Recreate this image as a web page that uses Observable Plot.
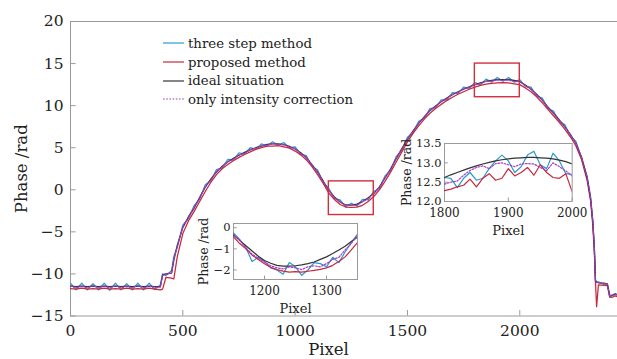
<!DOCTYPE html>
<html>
<head>
<meta charset="utf-8">
<script src="https://cdn.jsdelivr.net/npm/d3@7"></script>
<script src="https://cdn.jsdelivr.net/npm/@observablehq/plot@0.6"></script>
<style>
  body { margin: 0; background: #fff; }
  #chart { position: relative; width: 617px; height: 359px; overflow: hidden; font-family: "DejaVu Serif", serif; background: #fff; }
  #chart svg { position: absolute; max-width: none; }
  .legend { position: absolute; left: 163px; top: 34px; font-size: 13.3px; color: #222; }
  .legend .row { display: flex; align-items: center; height: 18.7px; white-space: nowrap; }
  .legend svg { position: static !important; margin-right: 3px; }
</style>
</head>
<body>
<div id="chart"></div>
<script>
// Unwrapped phase along the detector row (pixel index -> phase in rad)
const seriesNames = ["three step method", "proposed method", "ideal situation", "only intensity correction"];
const seriesColors = ["#2b9ad0", "#c8283a", "#333333", "#a83cc4"];
const seriesDash = [null, null, null, "1.6,1.6"];

const pixels = [
  0, 25, 50, 75, 100, 125, 150, 175, 200, 225, 250, 275, 300, 325, 350, 375,
  400, 410, 425, 450, 460, 475,
  500, 525, 550, 575, 600, 625, 650, 675, 700, 725, 750, 775, 800, 825, 850, 875, 900, 925, 950, 975,
  1000, 1025, 1050, 1075, 1100, 1125, 1150, 1175, 1200, 1225, 1250, 1275, 1300, 1325, 1350, 1375, 1400, 1425, 1450, 1475,
  1500, 1525, 1550, 1575, 1600, 1625, 1650, 1675, 1700, 1725, 1750, 1775, 1800, 1825, 1850, 1875, 1900, 1925, 1950, 1975,
  2000, 2025, 2050, 2075, 2100, 2125, 2150, 2175, 2200, 2225, 2250, 2275, 2300,
  2315, 2325, 2332, 2337, 2342, 2350, 2375, 2390, 2400, 2410, 2425, 2435
];

const threeStep = [
  -11.1, -11.9, -11.1, -11.9, -11.15, -11.9, -11.1, -11.95, -11.1, -11.9, -11.15, -11.9, -11.1, -11.9, -11.1, -11.85,
  -11.3, -10.0, -10.2, -9.6, -7.9, -6.9,
  -4.2, -3.4, -1.9, -1.1, 0.6, 1.1, 2.4, 2.6, 3.6, 3.55, 4.4, 4.25, 5.0, 4.8, 5.45, 5.2, 5.7, 5.3, 5.6, 5.0,
  5.1, 4.2, 4.05, 2.8, 2.35, 0.85, 0.15, -1.05, -1.2, -2.05, -1.6, -1.95, -1.15, -1.2, -0.2, 0.15, 1.65, 2.3, 3.95, 4.7,
  6.25, 6.8, 8.15, 8.5, 9.65, 9.75, 10.7, 10.7, 11.55, 11.45, 12.2, 12.05, 12.75, 12.5, 13.15, 12.8, 13.35, 12.9, 13.35, 12.8,
  13.1, 12.25, 12.2, 11.15, 10.9, 9.65, 9.35, 8.15, 7.75, 6.4, 5.75, 3.7, 1.6,
  -0.8, -3.6, -6.8, -10.7, -10.9, -10.95, -11.25, -11.15, -12.8, -12.5, -12.35, -12.45
];

const proposed = [
  -11.75, -11.8, -11.7, -11.8, -11.75, -11.8, -11.7, -11.8, -11.75, -11.8, -11.7, -11.8, -11.75, -11.8, -11.7, -11.8,
  -11.9, -11.8, -10.4, -10.5, -10.6, -8.0,
  -5.2, -3.7, -2.6, -1.4, -0.2, 0.9, 1.8, 2.5, 3.0, 3.45, 3.85, 4.2, 4.5, 4.8, 5.0, 5.2, 5.2, 5.25, 5.1, 4.95,
  4.6, 4.15, 3.55, 2.75, 1.8, 0.75, -0.4, -1.15, -1.75, -2.05, -2.1, -2.05, -1.85, -1.4, -0.8, 0.0, 1.0, 2.1, 3.3, 4.5,
  5.7, 6.7, 7.6, 8.4, 9.1, 9.65, 10.15, 10.6, 11.0, 11.35, 11.65, 11.95, 12.2, 12.4, 12.55, 12.65, 12.7, 12.75, 12.7, 12.6,
  12.5, 12.1, 11.65, 11.05, 10.35, 9.55, 8.8, 8.05, 7.2, 6.3, 5.2, 3.6, 1.1,
  -1.3, -4.2, -7.5, -11.0, -13.9, -11.3, -11.35, -11.4, -12.7, -12.8, -12.6, -12.7
];

const ideal = [
  -11.45, -11.5, -11.45, -11.5, -11.45, -11.5, -11.45, -11.5, -11.45, -11.5, -11.45, -11.5, -11.45, -11.5, -11.45, -11.5,
  -11.5, -10.1, -10.0, -9.9, -8.4, -6.6,
  -4.5, -3.2, -2.2, -0.9, 0.3, 1.3, 2.1, 2.8, 3.3, 3.75, 4.1, 4.45, 4.75, 5.0, 5.2, 5.4, 5.45, 5.45, 5.35, 5.15,
  4.85, 4.4, 3.8, 3.0, 2.1, 1.05, -0.1, -0.85, -1.45, -1.8, -1.82, -1.7, -1.4, -0.95, -0.45, 0.35, 1.4, 2.5, 3.7, 4.9,
  6.0, 7.0, 7.9, 8.7, 9.4, 9.95, 10.45, 10.9, 11.3, 11.65, 11.95, 12.25, 12.5, 12.7, 12.9, 13.0, 13.1, 13.1, 13.1, 13.0,
  12.85, 12.45, 11.95, 11.35, 10.65, 9.85, 9.1, 8.35, 7.5, 6.6, 5.5, 3.9, 1.4,
  -1.0, -3.8, -7.0, -10.9, -11.0, -11.05, -11.1, -11.2, -12.5, -12.6, -12.4, -12.5
];

const intensityOnly = [
  -11.4, -11.65, -11.45, -11.65, -11.4, -11.65, -11.45, -11.65, -11.4, -11.65, -11.45, -11.65, -11.4, -11.65, -11.45, -11.6,
  -11.55, -10.2, -10.05, -9.85, -8.2, -6.8,
  -4.4, -3.35, -2.15, -1.0, 0.35, 1.15, 2.2, 2.7, 3.35, 3.6, 4.15, 4.3, 4.8, 4.9, 5.25, 5.3, 5.5, 5.35, 5.4, 5.05,
  4.9, 4.3, 3.85, 2.9, 2.15, 0.95, -0.05, -0.95, -1.4, -1.9, -1.8, -1.85, -1.4, -1.05, -0.4, 0.25, 1.45, 2.4, 3.75, 4.8,
  6.05, 6.9, 7.95, 8.6, 9.45, 9.85, 10.5, 10.8, 11.35, 11.55, 12.0, 12.15, 12.5, 12.6, 12.9, 12.9, 13.05, 13.0, 13.05, 12.85,
  12.9, 12.35, 12.0, 11.25, 10.7, 9.75, 9.15, 8.25, 7.55, 6.5, 5.55, 3.8, 1.45,
  -0.95, -3.7, -6.9, -10.8, -11.0, -11.0, -11.15, -11.2, -12.6, -12.55, -12.45, -12.5
];

// Close-up around the valley
const lowPixels = [1150, 1160, 1170, 1180, 1190, 1200, 1210, 1220, 1230, 1240, 1250, 1260, 1270, 1280, 1290, 1300, 1310, 1320, 1330, 1340, 1350];
const lowThreeStep = [-0.25, -0.55, -0.95, -1.6, -1.4, -1.6, -1.9, -2.0, -2.2, -1.65, -1.85, -2.25, -2.0, -1.65, -1.7, -1.85, -1.4, -1.65, -1.15, -0.7, -0.3];
const lowProposed = [-0.43, -0.75, -1.0, -1.3, -1.5, -1.7, -1.87, -1.98, -2.05, -2.1, -2.08, -2.1, -2.06, -2.02, -1.97, -1.9, -1.78, -1.6, -1.38, -1.05, -0.7];
const lowIdeal = [-0.35, -0.6, -0.85, -1.1, -1.35, -1.55, -1.68, -1.78, -1.82, -1.82, -1.8, -1.76, -1.7, -1.62, -1.5, -1.38, -1.22, -1.05, -0.88, -0.65, -0.45];
const lowIntensityOnly = [-0.3, -0.6, -0.95, -1.25, -1.45, -1.62, -1.8, -1.9, -1.95, -1.85, -1.9, -1.98, -1.85, -1.8, -1.85, -1.7, -1.5, -1.4, -1.05, -0.75, -0.35];

// Close-up around the crest
const highPixels = [1800, 1810, 1820, 1830, 1840, 1850, 1860, 1870, 1880, 1890, 1900, 1910, 1920, 1930, 1940, 1950, 1960, 1970, 1980, 1990, 2000];
const highThreeStep = [12.62, 12.6, 12.36, 12.6, 12.75, 12.55, 12.6, 12.85, 13.05, 13.2, 13.05, 12.75, 12.9, 13.2, 13.3, 12.95, 12.85, 13.25, 13.05, 12.72, 12.7];
const highProposed = [12.28, 12.32, 12.38, 12.42, 12.58, 12.38, 12.6, 12.72, 12.55, 12.6, 12.85, 12.66, 12.75, 12.88, 12.68, 12.95, 12.75, 12.62, 12.6, 12.72, 12.25];
const highIdeal = [12.62, 12.69, 12.75, 12.81, 12.87, 12.92, 12.97, 13.01, 13.05, 13.08, 13.1, 13.12, 13.13, 13.14, 13.14, 13.13, 13.12, 13.1, 13.07, 13.03, 12.97];
const highIntensityOnly = [12.45, 12.5, 12.53, 12.68, 12.8, 12.88, 12.92, 12.85, 12.98, 13.0, 12.95, 12.9, 12.97, 12.98, 12.97, 12.88, 12.8, 13.0, 12.9, 12.79, 12.66];

// Regions marked on the full curve
const zoomBoxes = [
  {x1: 1150, x2: 1350, y1: -3, y2: 1},
  {x1: 1800, x2: 2000, y1: 11, y2: 15}
];

const mainXTicks = [0, 500, 1000, 1500, 2000];
const mainYTicks = [-15, -10, -5, 0, 5, 10, 15, 20];

const axisGray = "#9a9a9a";
const textColor = "#222";

function seriesLines(xs, arrays, width, clip) {
  return arrays.map((vals, i) => {
    const rows = vals.map((v, j) => ({pixel: xs[j], phase: v}));
    return Plot.line(rows, {
      x: "pixel", y: "phase",
      stroke: seriesColors[i], strokeWidth: width,
      strokeDasharray: seriesDash[i] ?? undefined,
      clip
    });
  });
}

const chart = document.getElementById("chart");

// Full curve
const main = Plot.plot({
  width: 617, height: 359,
  marginLeft: 70, marginRight: 0, marginTop: 21, marginBottom: 43.5,
  style: {fontFamily: "DejaVu Serif", background: "transparent", color: textColor, overflow: "visible"},
  x: {domain: [0, 2435]},
  y: {domain: [-15, 20]},
  marks: [
    Plot.frame({stroke: axisGray}),
    Plot.ruleY(mainYTicks, {x1: 0, x2: 25, stroke: axisGray}),
    Plot.ruleX(mainXTicks, {y1: -15, y2: -14.35, stroke: axisGray}),
    Plot.axisY({ticks: mainYTicks, tickSize: 0, tickPadding: 7, fontSize: 15.5, label: null, tickFormat: d3.format("d")}),
    Plot.axisX({ticks: mainXTicks, tickSize: 0, tickPadding: 9, fontSize: 15.5, label: null, tickFormat: d3.format("d")}),
    ...seriesLines(pixels, [threeStep, proposed, ideal, intensityOnly], 1.25, false),
    Plot.rect(zoomBoxes, {x1: "x1", x2: "x2", y1: "y1", y2: "y2", stroke: "#d0303c", strokeWidth: 1.4, fill: "none"}),
    Plot.text(["Pixel"], {frameAnchor: "bottom", dy: 33.5, dx: -15.5, fontSize: 16.5, lineAnchor: "middle", textAnchor: "middle"}),
    Plot.text(["Phase /rad"], {frameAnchor: "left", dx: -49, rotate: -90, fontSize: 16.5, textAnchor: "middle", lineAnchor: "middle"})
  ]
});
main.style.left = "0px";
main.style.top = "0px";
chart.appendChild(main);

function inset({xs, arrays, xDomain, yDomain, xTicks, yTicks, yFormat, left, top, w, h, labelDx}) {
  const mL = 50, mT = 4, mR = 6, mB = 42;
  const xLen = (xDomain[1] - xDomain[0]) * 0.03;
  const yLen = (yDomain[1] - yDomain[0]) * 0.06;
  const p = Plot.plot({
    width: w + mL + mR, height: h + mT + mB,
    marginLeft: mL, marginTop: mT, marginRight: mR, marginBottom: mB,
    style: {fontFamily: "DejaVu Serif", background: "transparent", color: textColor, overflow: "visible"},
    x: {domain: xDomain},
    y: {domain: yDomain},
    marks: [
      Plot.frame({fill: "white", stroke: axisGray}),
      Plot.ruleY(yTicks, {x1: xDomain[0], x2: xDomain[0] + xLen, stroke: axisGray}),
      Plot.ruleX(xTicks, {y1: yDomain[0], y2: yDomain[0] + yLen, stroke: axisGray}),
      Plot.axisY({ticks: yTicks, tickSize: 0, tickPadding: 3, fontSize: 11.5, label: null, tickFormat: yFormat}),
      Plot.axisX({ticks: xTicks, tickSize: 0, tickPadding: 7, fontSize: 12, label: null, tickFormat: d3.format("d")}),
      ...seriesLines(xs, arrays, 1.2, true),
      Plot.text(["Pixel"], {frameAnchor: "bottom", dy: 29, fontSize: 13, lineAnchor: "middle", textAnchor: "middle"}),
      Plot.text(["Phase /rad"], {frameAnchor: "left", dx: labelDx, rotate: -90, fontSize: 12.5, textAnchor: "middle", lineAnchor: "middle"})
    ]
  });
  p.style.left = (left - mL) + "px";
  p.style.top = (top - mT) + "px";
  chart.appendChild(p);
}

inset({
  xs: lowPixels,
  arrays: [lowThreeStep, lowProposed, lowIdeal, lowIntensityOnly],
  xDomain: [1150, 1350], yDomain: [-2.45, 0.2],
  xTicks: [1200, 1300], yTicks: [-2, -1, 0], yFormat: d3.format("d"),
  left: 232.7, top: 223.3, w: 124, h: 56, labelDx: -30
});

inset({
  xs: highPixels,
  arrays: [highThreeStep, highProposed, highIdeal, highIntensityOnly],
  xDomain: [1800, 2000], yDomain: [12, 13.5],
  xTicks: [1800, 1900, 2000], yTicks: [12, 12.5, 13, 13.5], yFormat: d3.format(".1f"),
  left: 444, top: 142.7, w: 127.7, h: 58, labelDx: -38
});

// Legend
const legend = document.createElement("div");
legend.className = "legend";
seriesNames.forEach((name, i) => {
  const row = document.createElement("div");
  row.className = "row";
  const svg = d3.create("svg").attr("width", 22).attr("height", 6);
  svg.append("line")
    .attr("x1", 0).attr("x2", 21).attr("y1", 3).attr("y2", 3)
    .attr("stroke", seriesColors[i]).attr("stroke-width", 1.2)
    .attr("stroke-dasharray", seriesDash[i]);
  row.appendChild(svg.node());
  const label = document.createElement("span");
  label.textContent = name;
  row.appendChild(label);
  legend.appendChild(row);
});
chart.appendChild(legend);
</script>
</body>
</html>
